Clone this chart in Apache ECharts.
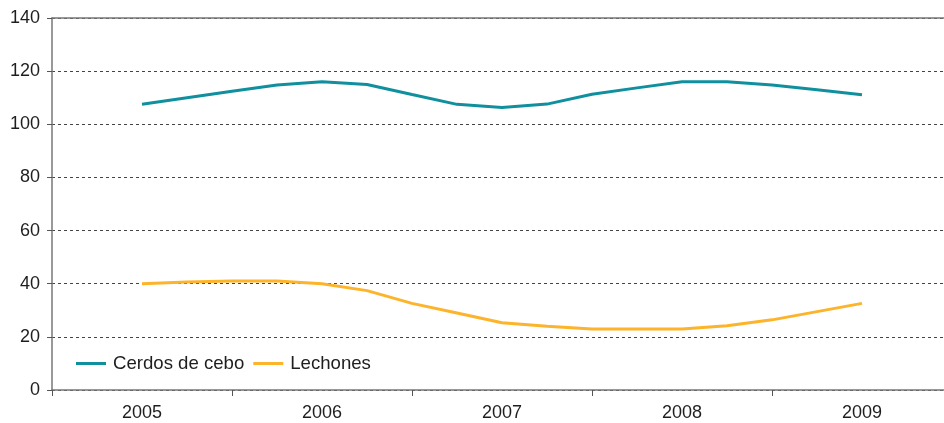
<!DOCTYPE html>
<html>
<head>
<meta charset="utf-8">
<script src="https://cdn.jsdelivr.net/npm/echarts@6/dist/echarts.min.js"></script>
<style>
html,body{margin:0;padding:0;background:#fff;}
#chart{width:944px;height:423px;}
</style>
</head>
<body>
<div id="chart"></div>
<script>
var years = ['2005', '2006', '2007', '2008', '2009'];
var timePoints = [2005, 2005.25, 2005.5, 2005.75, 2006, 2006.25, 2006.5, 2006.75, 2007, 2007.25, 2007.5, 2007.75, 2008, 2008.25, 2008.5, 2008.75, 2009];
var cerdosCebo = [107.5, 110, 112.4, 114.8, 116, 115, 111.2, 107.5, 106.3, 107.6, 111.3, 113.7, 116, 116, 114.8, 113, 111.1];
var lechones = [40, 40.6, 41, 41, 40, 37.4, 32.6, 29, 25.3, 24, 23, 23, 23, 24.2, 26.4, 29.5, 32.6];
var yTicks = [0, 20, 40, 60, 80, 100, 120, 140];

function pairs(xs, ys) { return xs.map(function (x, i) { return [x, ys[i]]; }); }

var chart = echarts.init(document.getElementById('chart'));
var font = 'Liberation Sans, Arial, sans-serif';
chart.setOption({
  animation: false,
  grid: { left: 52, top: 18, width: 900, height: 372, outerBoundsMode: 'none', containLabel: false, show: false },
  legend: {
    left: 76, top: 354, padding: 0, itemWidth: 30, itemHeight: 3, itemGap: 9,
    icon: 'rect',
    textStyle: { fontSize: 18.6, fontFamily: font, color: '#1e1e1e', padding: [0, 0, 0, 2] },
    data: ['Cerdos de cebo', 'Lechones']
  },
  xAxis: [{
    type: 'category', data: years, position: 'bottom', boundaryGap: true,
    axisLine: { lineStyle: { color: '#777', width: 1.5 } },
    axisTick: { show: true, interval: 0, length: 6, lineStyle: { color: '#555' } },
    axisLabel: { fontSize: 18, fontFamily: font, color: '#1e1e1e', margin: 14 },
    splitLine: { show: false }
  }, {
    type: 'value', min: 2004.5, max: 2009.5, position: 'top', show: true,
    axisLine: { show: true, onZero: false, lineStyle: { color: '#777', width: 1.5 } },
    axisTick: { show: false }, axisLabel: { show: false },
    splitLine: { show: false }
  }],
  yAxis: {
    type: 'value', min: yTicks[0], max: yTicks[yTicks.length - 1], interval: 20,
    axisLine: { show: true, lineStyle: { color: '#777', width: 1.5 } },
    axisTick: { show: true, length: 5, lineStyle: { color: '#555' } },
    axisLabel: { fontSize: 18, fontFamily: font, color: '#1e1e1e', margin: 12 },
    splitLine: { show: true, lineStyle: { color: '#444', type: [3, 3], width: 1 } }
  },
  series: [{
    name: 'Cerdos de cebo', type: 'line', xAxisIndex: 1, symbol: 'none',
    data: pairs(timePoints, cerdosCebo),
    lineStyle: { color: '#10909e', width: 3 }, itemStyle: { color: '#10909e' }
  }, {
    name: 'Lechones', type: 'line', xAxisIndex: 1, symbol: 'none',
    data: pairs(timePoints, lechones),
    lineStyle: { color: '#fdb42a', width: 3 }, itemStyle: { color: '#fdb42a' }
  }]
});
</script>
</body>
</html>
